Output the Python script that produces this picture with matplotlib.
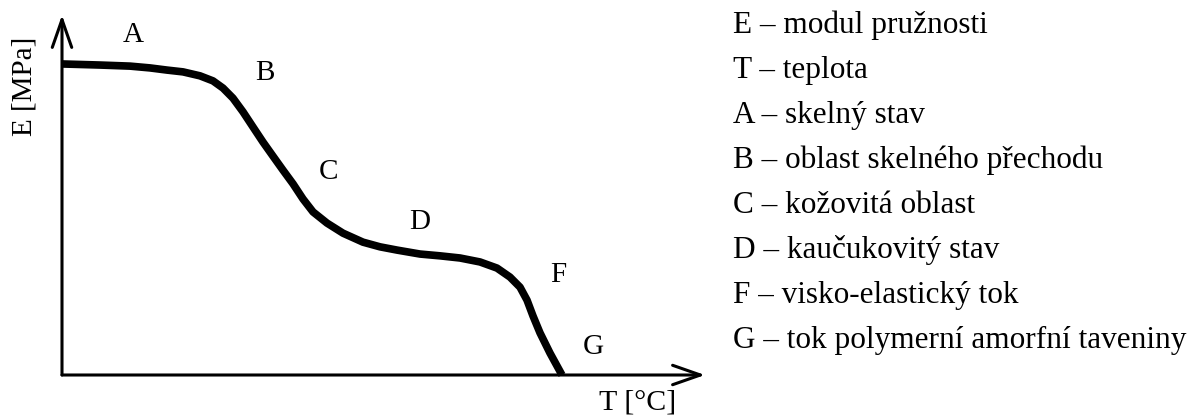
import matplotlib
matplotlib.use("Agg")
import matplotlib.pyplot as plt

# --- data (T and E in relative units, 0-100 along each axis) ---
T_values = [0, 5.91, 10.58, 13.69, 16.33, 18.82, 21.46, 23.48, 25.04, 26.59,
            28.15, 29.70, 31.26, 32.81, 34.37, 35.93, 37.48, 39.04, 41.21, 43.70,
            46.81, 49.46, 52.10, 55.68, 58.79, 61.90, 65.01, 67.65, 69.67, 71.23,
            72.32, 73.25, 74.34, 75.89, 77.76]
E_values = [86.4, 86.1, 85.8, 85.3, 84.7, 84.2, 83.1, 81.7, 79.7, 76.9,
            73.1, 68.9, 64.7, 60.8, 56.9, 53.1, 48.9, 45.3, 42.2, 39.4,
            36.9, 35.6, 34.7, 33.6, 33.1, 32.5, 31.4, 29.7, 27.2, 24.4,
            20.8, 16.4, 11.7, 6.1, 0.0]

region_letters = ["A", "B", "C", "D", "F", "G"]
region_T = [11.0, 31.6, 41.4, 55.7, 77.1, 82.6]
region_E = [94.4, 83.9, 56.4, 42.5, 27.8, 7.8]

legend_lines = [
    "E – modul pružnosti",
    "T – teplota",
    "A – skelný stav",
    "B – oblast skelného přechodu",
    "C – kožovitá oblast",
    "D – kaučukovitý stav",
    "F – visko-elastický tok",
    "G – tok polymerní amorfní taveniny",
]

x_label = "T [°C]"
y_label = "E [MPa]"

plt.rcParams['font.family'] = ['Liberation Serif', 'DejaVu Serif']

W, H = 1203, 416
fig = plt.figure(figsize=(W / 100, H / 100), dpi=100)
fig.patch.set_facecolor("white")

# axes: origin at pixel (62, 375), x tip at 705, y tip at 15
x0, y0, x1, y1 = 62, 375, 705, 15
ax = fig.add_axes([x0 / W, (H - y0) / H, (x1 - x0) / W, (y0 - y1) / H])
ax.set_xlim(0, 100)
ax.set_ylim(0, 100)
ax.axis("off")

arrow_kw = dict(arrowstyle="->, head_length=0.8, head_width=0.28", lw=2.2,
                color="black", mutation_scale=25, shrinkA=0, shrinkB=0)
ax.annotate("", xy=(1, 0), xytext=(0, 0), xycoords="axes fraction",
            textcoords="axes fraction", arrowprops=arrow_kw, annotation_clip=False)
ax.annotate("", xy=(0, 1), xytext=(0, 0), xycoords="axes fraction",
            textcoords="axes fraction", arrowprops=arrow_kw, annotation_clip=False)

ax.plot(T_values, E_values, color="black", lw=5.5, solid_joinstyle="round",
        solid_capstyle="butt", clip_on=False)

for lab, t, e in zip(region_letters, region_T, region_E):
    ax.text(t, e, lab, fontsize=21, ha="center", va="center")

fig.text(25 / W, 1 - 86 / H, y_label, rotation=90, fontsize=21,
         ha="center", va="center")
fig.text(638 / W, 1 - 402 / H, x_label, fontsize=21.5, ha="center", va="center")

for i, line in enumerate(legend_lines):
    fig.text(733 / W, 1 - (33 + 45 * i) / H, line, fontsize=22.5,
             ha="left", va="baseline")

fig.savefig("out.png", dpi=100, facecolor="white")
